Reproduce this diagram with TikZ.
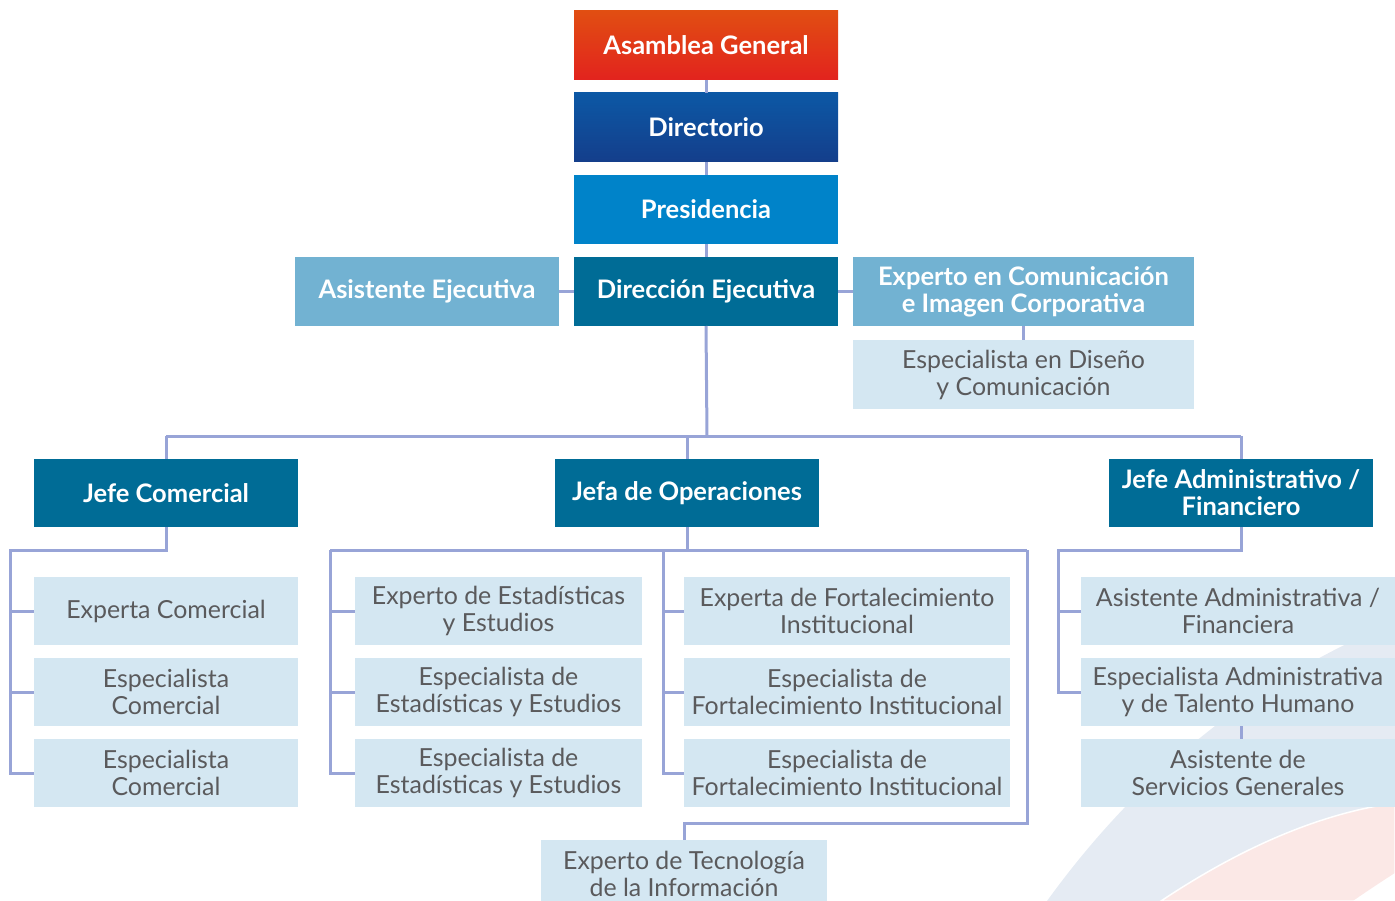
\documentclass[tikz,border=0pt]{standalone}
\usepackage{fontspec}
\setmainfont{Lato}
\definecolor{agTop}{HTML}{E14E12}
\definecolor{agBot}{HTML}{E2231E}
\definecolor{dirTop}{HTML}{0C58A5}
\definecolor{dirBot}{HTML}{143E8B}
\definecolor{presC}{HTML}{0083C9}
\definecolor{darkTeal}{HTML}{006C96}
\definecolor{midBlue}{HTML}{72B2D2}
\definecolor{lightBox}{HTML}{D4E7F2}
\definecolor{lightText}{HTML}{5A5A5C}
\definecolor{lineC}{HTML}{98A4D7}
\definecolor{decoGray}{HTML}{E5EBF3}
\definecolor{decoPink}{HTML}{FBE8E6}
\tikzset{
  box/.style={inner sep=0pt, outer sep=0pt, align=center, minimum height=69pt},
  hdrfont/.style={font=\fontsize{25.5}{27}\selectfont\bfseries},
  hdr/.style={box, fill=darkTeal, text=white, hdrfont},
  sub/.style={box, fill=midBlue, text=white, hdrfont},
  light/.style={box, fill=lightBox, text=lightText, font=\fontsize{24.9}{27}\selectfont},
  conn/.style={draw=lineC, line width=3pt},
}
\begin{document}
\begin{tikzpicture}[x=1pt,y=-1pt]
\useasboundingbox (0,0) rectangle (1395,901);
% background decoration
\fill[decoGray] (1047,901) .. controls (1120,800) and (1230,690) .. (1395,622) -- (1395,901) -- cycle;
\fill[decoPink, draw=white, line width=1.5pt] (1161,901) .. controls (1230,855) and (1310,815) .. (1395,803) -- (1395,901) -- cycle;
\fill[white] (1353,901) .. controls (1372,888) .. (1395,873) -- (1395,901) -- cycle;

% top chain
\node[box, top color=agTop, bottom color=agBot, text=white, hdrfont, minimum width=264pt] (ag) at (706,45.5) {Asamblea General};
\node[box, top color=dirTop, bottom color=dirBot, text=white, hdrfont, minimum width=264pt] (dir) at (706,127.5) {Directorio};
\node[box, fill=presC, text=white, hdrfont, minimum width=264pt] (pres) at (706,209.5) {Presidencia};
\node[hdr, minimum width=264pt] (de) at (706,291.5) {Dirección Ejecutiva};
\node[sub, minimum width=264pt] (ae) at (427,291.5) {Asistente Ejecutiva};
\node[sub, minimum width=341pt] (ec) at (1023.5,291.5) {Experto en Comunicación\\e Imagen Corporativa};
\node[light, minimum width=341pt] (ed) at (1023.5,374.5) {Especialista en Diseño\\y Comunicación};

% second level
\node[hdr, minimum width=264pt, minimum height=68pt] (jc) at (166,493) {Jefe Comercial};
\node[hdr, minimum width=264pt, minimum height=68pt] (jo) at (687,493) {Jefa de Operaciones};
\node[hdr, minimum width=264pt, minimum height=68pt] (ja) at (1241,493) {Jefe Administrativo /\\Financiero};

% commercial
\node[light, minimum width=264pt, minimum height=68pt] (c1) at (166,611) {Experta Comercial};
\node[light, minimum width=264pt, minimum height=68pt] (c2) at (166,692) {Especialista\\Comercial};
\node[light, minimum width=264pt, minimum height=68pt] (c3) at (166,773) {Especialista\\Comercial};

% operations
\node[light, minimum width=287pt, minimum height=68pt] (s1) at (498.5,611) {Experto de Estadísticas\\y Estudios};
\node[light, minimum width=287pt, minimum height=68pt] (s2) at (498.5,692) {Especialista de\\Estadísticas y Estudios};
\node[light, minimum width=287pt, minimum height=68pt] (s3) at (498.5,773) {Especialista de\\Estadísticas y Estudios};
\node[light, minimum width=326pt, minimum height=68pt] (f1) at (847,611) {Experta de Fortalecimiento\\Institucional};
\node[light, minimum width=326pt, minimum height=68pt] (f2) at (847,692) {Especialista de\\Fortalecimiento Institucional};
\node[light, minimum width=326pt, minimum height=68pt] (f3) at (847,773) {Especialista de\\Fortalecimiento Institucional};
\node[light, minimum width=286pt, minimum height=68pt] (tec) at (684,874) {Experto de Tecnología\\de la Información};

% administrative
\node[light, minimum width=314pt, minimum height=68pt] (a1) at (1238,611) {Asistente Administrativa /\\Financiera};
\node[light, minimum width=314pt, minimum height=68pt] (a2) at (1238,692) {Especialista Administrativa\\y de Talento Humano};
\node[light, minimum width=314pt, minimum height=68pt] (a3) at (1238,773) {Asistente de\\Servicios Generales};

% connectors top
\draw[conn] (ag.south) -- (dir.north);
\draw[conn] (dir.south) -- (pres.north);
\draw[conn] (pres.south) -- (de.north);
\draw[conn] (ae.east) -- (de.west);
\draw[conn] (de.east) -- (ec.west);
\draw[conn] (ec.south) -- (ed.north);
\coordinate (bus) at (707,436);
\draw[conn] (de.south) -- (bus);
\draw[conn] (jc.north |- bus) -- (ja.north |- bus);
\draw[conn] (jc.north |- bus) -- (jc.north);
\draw[conn] (jo.north |- bus) -- (jo.north);
\draw[conn] (ja.north |- bus) -- (ja.north);

% commercial connectors
\coordinate (cl) at (10,550);
\draw[conn] (jc.south) |- (cl) |- (c3.west);
\draw[conn] (c1.west -| cl) -- (c1.west);
\draw[conn] (c2.west -| cl) -- (c2.west);

% operations connectors
\coordinate (ol) at (330,550);
\coordinate (om) at (663,550);
\coordinate (or) at (1027,550);
\draw[conn] (jo.south) -- (jo.south |- ol);
\draw[conn] (ol) -- (or);
\draw[conn] (ol) |- (s3.west);
\draw[conn] (s1.west -| ol) -- (s1.west);
\draw[conn] (s2.west -| ol) -- (s2.west);
\draw[conn] (om) |- (f3.west);
\draw[conn] (f1.west -| om) -- (f1.west);
\draw[conn] (f2.west -| om) -- (f2.west);
\draw[conn] (or) -- ++(0,273) -| (tec.north);

% administrative connectors
\coordinate (al) at (1058,550);
\draw[conn] (ja.south) |- (al) |- (a2.west);
\draw[conn] (a1.west -| al) -- (a1.west);
\draw[conn] (a2.south -| ja.south) -- (a3.north -| ja.south);
\end{tikzpicture}
\end{document}
